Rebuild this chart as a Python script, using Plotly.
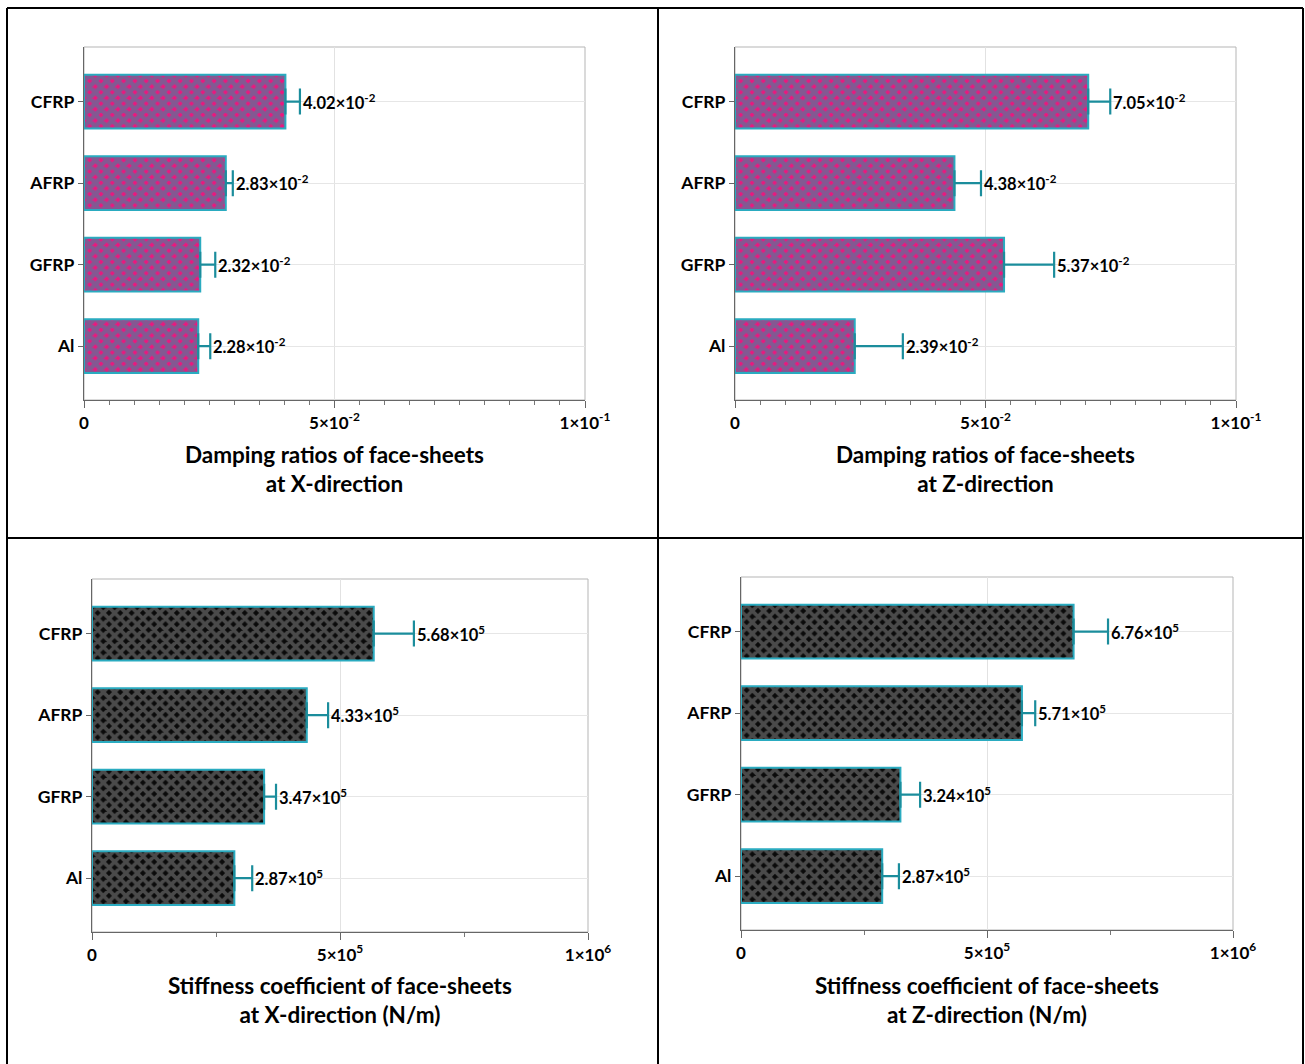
import plotly.graph_objects as go

# ---------------- data ----------------
categories = ["Al", "GFRP", "AFRP", "CFRP"]

damp_x = [2.28e-2, 2.32e-2, 2.83e-2, 4.02e-2]
damp_x_err = [0.24e-2, 0.30e-2, 0.14e-2, 0.29e-2]
damp_z = [2.39e-2, 5.37e-2, 4.38e-2, 7.05e-2]
damp_z_err = [0.96e-2, 1.00e-2, 0.53e-2, 0.44e-2]

stiff_x = [2.87e5, 3.47e5, 4.33e5, 5.68e5]
stiff_x_err = [0.36e5, 0.24e5, 0.43e5, 0.81e5]
stiff_z = [2.87e5, 3.24e5, 5.71e5, 6.76e5]
stiff_z_err = [0.34e5, 0.40e5, 0.27e5, 0.70e5]

damp_ticks = [0, 0.05, 0.1]
damp_ticktext = ["0", "5×10<sup>-2</sup>", "1×10<sup>-1</sup>"]
stiff_ticks = [0, 5e5, 1e6]
stiff_ticktext = ["0", "5×10<sup>5</sup>", "1×10<sup>6</sup>"]

titles = [
    "Damping ratios of face-sheets<br>at X-direction",
    "Damping ratios of face-sheets<br>at Z-direction",
    "Stiffness coefficient of face-sheets<br>at X-direction (N/m)",
    "Stiffness coefficient of face-sheets<br>at Z-direction (N/m)",
]

# ---------------- layout helpers ----------------
W, H = 1305, 1064
FONT = "Lato"


def px_x(p):
    return p / W


def px_y(p):
    return 1 - p / H


panels = [
    dict(vals=damp_x, err=damp_x_err, exp=-2, ticks=damp_ticks, ticktext=damp_ticktext,
         rng=[0, 0.1], minor=0.005, dom_x=(84, 585), dom_y=(47, 400),
         fg="#1e9aa6", bg="#e8197f", sol=0.8, title=titles[0], title_y=469),
    dict(vals=damp_z, err=damp_z_err, exp=-2, ticks=damp_ticks, ticktext=damp_ticktext,
         rng=[0, 0.1], minor=0.005, dom_x=(735, 1236), dom_y=(47, 400),
         fg="#1e9aa6", bg="#e8197f", sol=0.8, title=titles[1], title_y=469),
    dict(vals=stiff_x, err=stiff_x_err, exp=5, ticks=stiff_ticks, ticktext=stiff_ticktext,
         rng=[0, 1e6], minor=2.5e5, dom_x=(92, 588), dom_y=(579, 932),
         fg="#8a8a8a", bg="#0a0a0a", sol=0.72, title=titles[2], title_y=1000),
    dict(vals=stiff_z, err=stiff_z_err, exp=5, ticks=stiff_ticks, ticktext=stiff_ticktext,
         rng=[0, 1e6], minor=2.5e5, dom_x=(741, 1233), dom_y=(577, 930),
         fg="#8a8a8a", bg="#0a0a0a", sol=0.72, title=titles[3], title_y=1000),
]

fig = go.Figure()
annotations = []
shapes = []

for i, p in enumerate(panels, start=1):
    xa = "x" if i == 1 else f"x{i}"
    ya = "y" if i == 1 else f"y{i}"
    fig.add_trace(go.Bar(
        x=p["vals"], y=categories, orientation="h",
        xaxis=xa, yaxis=ya, width=0.66,
        marker=dict(
            color=p["bg"],
            line=dict(color="#2aabc0", width=2),
            pattern=dict(shape="x", fgcolor=p["fg"], bgcolor=p["bg"],
                         size=8, solidity=p["sol"]),
        ),
        error_x=dict(type="data", array=p["err"], arrayminus=[0] * len(p["err"]),
                     symmetric=False, color="#1b8d9c", thickness=2.2, width=13),
        showlegend=False, hoverinfo="skip",
    ))

    scale = 10.0 ** p["exp"]
    for v, e, c in zip(p["vals"], p["err"], categories):
        annotations.append(dict(
            x=v + e, y=c, xref=xa, yref=ya, xanchor="left", yanchor="middle",
            xshift=1, showarrow=False,
            text=f"<b>{v/scale:.2f}×10<sup>{p['exp']}</sup></b>",
            font=dict(family=FONT, size=16.5, color="black"),
        ))

    x0, x1 = p["dom_x"]
    y0, y1 = p["dom_y"]
    axis_x = dict(
        domain=[px_x(x0), px_x(x1)], range=p["rng"], anchor=ya,
        tickvals=p["ticks"], ticktext=p["ticktext"],
        ticks="outside", ticklen=7, tickwidth=1, tickcolor="#666",
        minor=dict(dtick=p["minor"], ticks="outside", ticklen=4, tickcolor="#777",
                   showgrid=False),
        showline=True, linecolor="#666", linewidth=1.2,
        showgrid=True, gridcolor="#e2e2e2", gridwidth=1,
        zeroline=False, fixedrange=True, automargin=False,
        tickfont=dict(family=FONT, size=17, color="black", weight="bold"),
    )
    axis_y = dict(
        domain=[px_y(y1), px_y(y0)], anchor=xa,
        type="category", categoryorder="array", categoryarray=categories,
        range=[-0.66, 3.67],
        ticks="outside", ticklen=5, tickcolor="#666",
        showline=True, linecolor="#666", linewidth=1.2,
        showgrid=True, gridcolor="#e6e6e6", gridwidth=1,
        zeroline=False, fixedrange=True, automargin=False,
        tickfont=dict(family=FONT, size=17.5, color="black", weight="bold"),
    )
    fig.update_layout(**{("xaxis" if i == 1 else f"xaxis{i}"): axis_x,
                         ("yaxis" if i == 1 else f"yaxis{i}"): axis_y})

    # light plot frame
    shapes.append(dict(type="rect", xref=f"{xa} domain", yref=f"{ya} domain",
                       x0=0, x1=1, y0=0, y1=1, line=dict(color="#b5b5b5", width=1),
                       layer="below"))

    # axis title
    annotations.append(dict(
        x=(px_x(x0) + px_x(x1)) / 2, y=px_y(p["title_y"]), xref="paper", yref="paper",
        xanchor="center", yanchor="middle", showarrow=False,
        text=f"<b>{p['title']}</b>",
        font=dict(family=FONT, size=22.5, color="black"),
    ))

# panel frame lines
frame = [
    (7, 8, 1303, 8), (7, 538, 1303, 538),
    (7, 8, 7, 1064), (658, 8, 658, 1064), (1303, 8, 1303, 1064),
]
for (a, b, c, d) in frame:
    shapes.append(dict(type="line", xref="paper", yref="paper",
                       x0=px_x(a), y0=px_y(b), x1=px_x(c), y1=px_y(d),
                       line=dict(color="black", width=2)))

fig.update_layout(
    width=W, height=H, autosize=False,
    margin=dict(l=0, r=0, t=0, b=0, autoexpand=False),
    paper_bgcolor="white", plot_bgcolor="white",
    font=dict(family=FONT, color="black"),
    annotations=annotations, shapes=shapes,
    bargap=0.34,
)

fig.write_html("out.html")
